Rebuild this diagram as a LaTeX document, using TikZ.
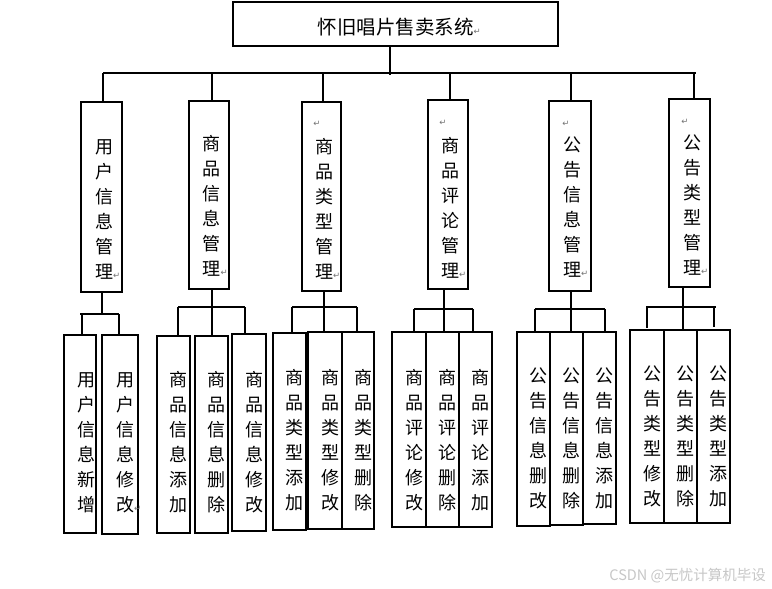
\documentclass[tikz,border=0pt]{standalone}
\usepackage{fontspec}
\usetikzlibrary{fit}
\newfontfamily\cjk{Noto Sans CJK SC}
\newfontfamily\dvs{DejaVu Sans}
\newcommand\retm{{\dvs\fontsize{8.5}{8.5}\selectfont\color{black!55}↵}}
\newcommand\bx[5]{\node[box, fit={(#2,#3) (#4,#5)}] (#1) {};}
\begin{document}
\begin{tikzpicture}[x=1pt,y=-1pt,
  box/.style={draw, line width=1.1pt, inner sep=0pt, outer sep=0pt},
  vt/.style={font=\cjk\fontsize{18}{25}\selectfont, align=center, inner sep=0pt},
  ln/.style={line width=1.1pt},
  rm/.style={inner sep=0pt}]
\useasboundingbox[fill=white] (0,0) rectangle (772,589);

% top
\bx{top}{233}{2}{558}{46}
\node[font=\cjk\fontsize{19.5}{20}\selectfont, inner sep=0pt] (title) at (395.5,27) {怀旧唱片售卖系统\rlap{\retm}};

% level 2 boxes
\bx{A}{81}{102}{122}{292}
\bx{B}{189}{101}{229}{289}
\bx{C}{302}{102}{341}{291}
\bx{D}{428}{100}{468}{289}
\bx{E}{549}{101}{591}{291}
\bx{F}{669}{99}{710}{287}

\node[vt] (tA) at (104,209.5) {用\\户\\信\\息\\管\\理\rlap{\retm}};
\node[vt] (tB) at (211.5,206) {商\\品\\信\\息\\管\\理\rlap{\retm}};
\node[vt] (tC) at (324,209) {商\\品\\类\\型\\管\\理\rlap{\retm}};
\node[vt] (tD) at (450,207.5) {商\\品\\评\\论\\管\\理\rlap{\retm}};
\node[vt] (tE) at (572,207.5) {公\\告\\信\\息\\管\\理\rlap{\retm}};
\node[vt] (tF) at (692,205.5) {公\\告\\类\\型\\管\\理\rlap{\retm}};
\node[rm] (rC) at (317,124) {\retm};
\node[rm] (rD) at (443,123) {\retm};
\node[rm] (rE) at (566,124) {\retm};
\node[rm] (rF) at (685,122) {\retm};

% top connectors
\draw[ln] (top.south -| 390,0) -- (390,75);
\draw[ln] (103,73) coordinate (busL) -- (696,73) coordinate (busR);
\foreach \n/\x in {A/103,B/212,C/323,D/450,E/571,F/694}
  \draw[ln] (\x,73) -- (\n.north -| \x,0);

% level 3 boxes
\bx{a1}{64}{335}{96}{533}
\bx{a2}{102}{335}{138}{534}
\bx{b1}{157}{336}{190}{533}
\bx{b2}{195}{336}{228}{533}
\bx{b3}{232}{334}{266}{531}
\bx{c1}{273}{333}{306}{530}
\bx{c2}{308}{332}{342}{529}
\bx{c3}{342}{332}{374}{529}
\bx{d1}{392}{332}{426}{527}
\bx{d2}{426}{332}{459}{527}
\bx{d3}{459}{332}{492}{527}
\bx{e1}{517}{332}{550}{526}
\bx{e2}{550}{332}{583}{525}
\bx{e3}{583}{332}{616}{524}
\bx{f1}{630}{330}{664}{523}
\bx{f2}{664}{330}{697}{523}
\bx{f3}{697}{330}{730}{523}

% level 3 texts
\node[vt] (ta1) at (86,442.5) {用\\户\\信\\息\\新\\增};
\node[vt] (ta2) at (125,442.5) {用\\户\\信\\息\\修\\改\rlap{\retm}};
\node[vt] (tb1) at (178.5,442.5) {商\\品\\信\\息\\添\\加};
\node[vt] (tb2) at (216.5,442.5) {商\\品\\信\\息\\删\\除};
\node[vt] (tb3) at (254,442.5) {商\\品\\信\\息\\修\\改};
\node[vt] (tc1) at (294.5,440) {商\\品\\类\\型\\添\\加};
\node[vt] (tc2) at (330,440) {商\\品\\类\\型\\修\\改};
\node[vt] (tc3) at (363,440) {商\\品\\类\\型\\删\\除};
\node[vt] (td1) at (414,440) {商\\品\\评\\论\\修\\改};
\node[vt] (td2) at (447.5,440) {商\\品\\评\\论\\删\\除};
\node[vt] (td3) at (480.5,440) {商\\品\\评\\论\\添\\加};
\node[vt] (te1) at (538.5,438.5) {公\\告\\信\\息\\删\\改};
\node[vt] (te2) at (571.5,438.5) {公\\告\\信\\息\\删\\除};
\node[vt] (te3) at (604.5,438.5) {公\\告\\信\\息\\添\\加};
\node[vt] (tf1) at (652,436.5) {公\\告\\类\\型\\修\\改};
\node[vt] (tf2) at (685.5,436.5) {公\\告\\类\\型\\删\\除};
\node[vt] (tf3) at (718.5,436.5) {公\\告\\类\\型\\添\\加};

% level 3 connectors
% group A
\draw[ln] (A.south -| 102,0) -- (102,314);
\draw[ln] (80,314) -- (119,314);
\draw[ln] (82,314) -- (a1.north -| 82,0);
\draw[ln] (119,314) -- (a2.north -| 119,0);
% group B
\draw[ln] (B.south -| 212,0) -- (b2.north -| 212,0);
\draw[ln] (178,307) -- (245,307);
\draw[ln] (178,307) -- (b1.north -| 178,0);
\draw[ln] (245,307) -- (b3.north -| 245,0);
% group C
\draw[ln] (C.south -| 324,0) -- (c2.north -| 324,0);
\draw[ln] (292,307) -- (357,307);
\draw[ln] (292,307) -- (c1.north -| 292,0);
\draw[ln] (357,307) -- (c3.north -| 357,0);
% group D
\draw[ln] (D.south -| 444,0) -- (d2.north -| 444,0);
\draw[ln] (414,309) -- (473,309);
\draw[ln] (414,309) -- (d1.north -| 414,0);
\draw[ln] (473,309) -- (d3.north -| 473,0);
% group E
\draw[ln] (E.south -| 571,0) -- (e2.north -| 571,0);
\draw[ln] (535,309) -- (605,309);
\draw[ln] (535,309) -- (e1.north -| 535,0);
\draw[ln] (605,309) -- (e3.north -| 605,0);
% group F
\draw[ln] (F.south -| 683,0) -- (f2.north -| 683,0);
\draw[ln] (646,307) -- (716,307);
\draw[ln] (647,307) -- (647,328);
\draw[ln] (714,307) -- (714,327);

% watermark
\node[anchor=east, inner sep=0pt, font=\cjk\fontsize{14.5}{15}\selectfont, text=black!22] (wm) at (766,576) {CSDN @无忧计算机毕设};
\end{tikzpicture}
\end{document}
